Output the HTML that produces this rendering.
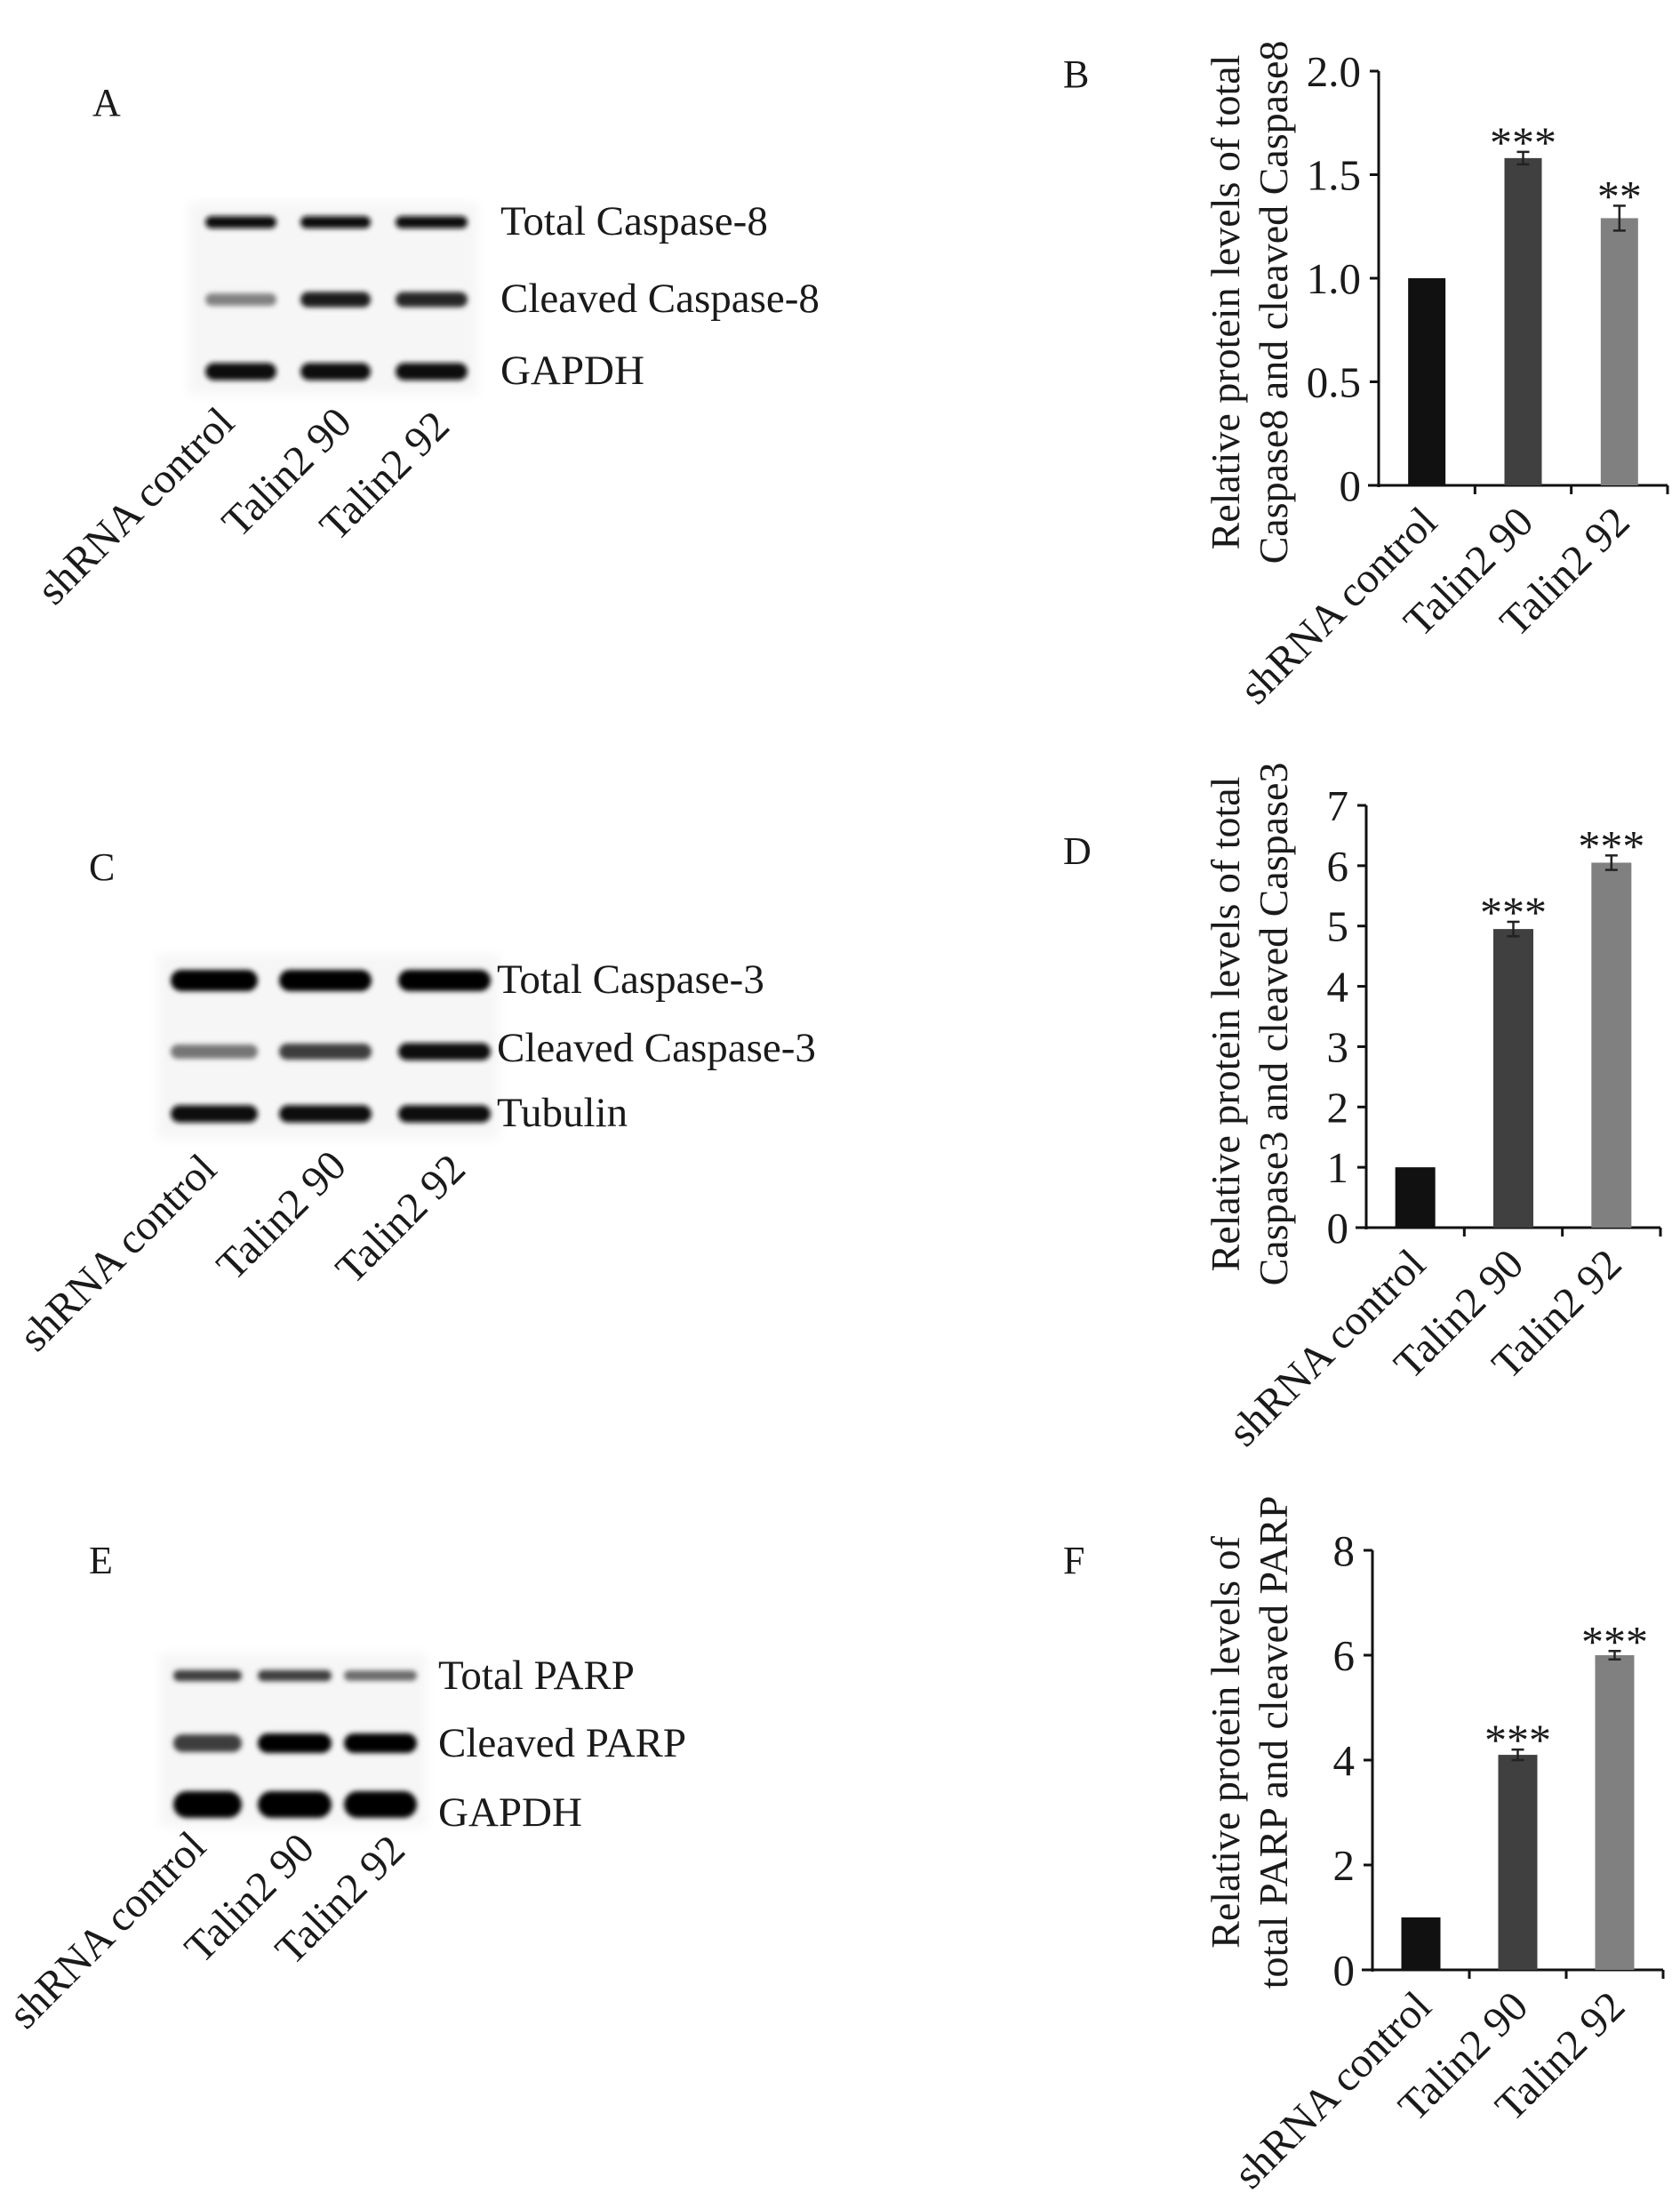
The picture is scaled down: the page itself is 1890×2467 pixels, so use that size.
<!DOCTYPE html>
<html><head><meta charset="utf-8"><style>
html,body{margin:0;padding:0;background:#fff}
svg{display:block}
text{font-family:"Liberation Serif",serif;fill:#1a1a1a}
</style></head><body>
<svg id="fig" width="1890" height="2467" viewBox="0 0 1890 2467" xmlns="http://www.w3.org/2000/svg">
<defs>
<filter id="blur" x="-20%" y="-100%" width="140%" height="300%"><feGaussianBlur stdDeviation="3"/></filter>
<filter id="blurbg" x="-10%" y="-10%" width="120%" height="120%"><feGaussianBlur stdDeviation="6"/></filter>
</defs>
<g id="layer"></g>
</svg>
<script>
// ---- chart data ----
const categories = ["shRNA control", "Talin2 90", "Talin2 92"];
const barColors = ["#111111", "#404040", "#808080"];
const bValues = [1.0, 1.58, 1.29];
const bErrors = [0, 0.03, 0.06];
const bStars = ["", "***", "**"];
const bTicks = ["0", "0.5", "1.0", "1.5", "2.0"];
const bTickValues = [0, 0.5, 1.0, 1.5, 2.0];
const dValues = [1.0, 4.95, 6.05];
const dErrors = [0, 0.12, 0.12];
const dStars = ["", "***", "***"];
const dTicks = ["0", "1", "2", "3", "4", "5", "6", "7"];
const dTickValues = [0, 1, 2, 3, 4, 5, 6, 7];
const fValues = [1.0, 4.1, 6.0];
const fErrors = [0, 0.1, 0.08];
const fStars = ["", "***", "***"];
const fTicks = ["0", "2", "4", "6", "8"];
const fTickValues = [0, 2, 4, 6, 8];
// ---- blot band intensities (0..1) per row per lane ----
const blotARows = ["Total Caspase-8", "Cleaved Caspase-8", "GAPDH"];
const blotAInt = [[0.95, 0.95, 0.95], [0.45, 0.9, 0.85], [0.95, 0.95, 0.95]];
const blotCRows = ["Total Caspase-3", "Cleaved Caspase-3", "Tubulin"];
const blotCInt = [[1, 1, 1], [0.5, 0.75, 0.95], [0.95, 0.95, 0.95]];
const blotERows = ["Total PARP", "Cleaved PARP", "GAPDH"];
const blotEInt = [[0.75, 0.75, 0.55], [0.75, 1, 1], [1, 1, 1]];

const NS = "http://www.w3.org/2000/svg";
const layer = document.getElementById("layer");
function mk(tag, attrs, parent) {
  const e = document.createElementNS(NS, tag);
  for (const k in attrs) e.setAttribute(k, attrs[k]);
  (parent || layer).appendChild(e);
  return e;
}
function txt(s, attrs, parent) { const t = mk("text", attrs, parent); t.textContent = s; return t; }

const letters = [["A",104,130],["B",1196,98],["C",100,990],["D",1196,972],["E",100,1770],["F",1196,1770]];
letters.forEach(l => {
  const t = txt(l[0], {x: l[1], y: l[2], "font-size": 44});
  
  
});

function drawChart(id, cfg, values, errors, stars, ticks, tickValues) {
  const g = mk("g", {});
  
  
  const yScale = v => cfg.y0 - (v / cfg.max) * (cfg.y0 - cfg.yTop);
  const xSlot = (cfg.xEnd - cfg.x0) / categories.length;
  const xCenter = i => cfg.x0 + xSlot * (i + 0.5);
  const ya = mk("line", {x1: cfg.x0, y1: cfg.yTop, x2: cfg.x0, y2: cfg.y0 + 2, stroke: "#111", "stroke-width": 3}, g);
  
  
  const xa = mk("line", {x1: cfg.x0 - 12, y1: cfg.y0, x2: cfg.xEnd, y2: cfg.y0, stroke: "#111", "stroke-width": 3}, g);
  
  
  tickValues.forEach((v, i) => {
    const y = yScale(v);
    mk("line", {x1: cfg.x0 - 10, y1: y, x2: cfg.x0, y2: y, stroke: "#111", "stroke-width": 3}, g);
    const t = txt(ticks[i], {x: cfg.x0 - 20, y: y + 17, "font-size": 49, "text-anchor": "end", fill: "#333"}, g);
    
    
  });
  for (let i = 1; i <= categories.length; i++) {
    const x = cfg.x0 + xSlot * i;
    mk("line", {x1: x, y1: cfg.y0, x2: x, y2: cfg.y0 + 10, stroke: "#111", "stroke-width": 3}, g);
  }
  values.forEach((v, i) => {
    const cx = xCenter(i);
    const r = mk("rect", {x: cx - cfg.bw / 2, y: yScale(v), width: cfg.bw, height: cfg.y0 - yScale(v), fill: barColors[i]}, g);
    
    
    let topY = yScale(v);
    if (errors[i] > 0) {
      const yt = yScale(v + errors[i]), yb = yScale(v - errors[i]);
      topY = yt;
      const eg = mk("g", {stroke: "#222", "stroke-width": 2.5}, g);
      
      
      mk("line", {x1: cx, y1: yt, x2: cx, y2: yb}, eg);
      mk("line", {x1: cx - 7, y1: yt, x2: cx + 7, y2: yt}, eg);
      mk("line", {x1: cx - 7, y1: yb, x2: cx + 7, y2: yb}, eg);
    }
    if (stars[i]) {
      const s = txt(stars[i], {x: cx, y: topY + 6, "font-size": 50, "text-anchor": "middle", fill: "#333"}, g);
      
      
    }
    const lx = cx + 14, ly = cfg.y0 + 44;
    const ct = txt(categories[i], {x: lx, y: ly, "font-size": 48, "text-anchor": "end", fill: "#333", transform: `rotate(-45 ${lx} ${ly})`}, g);
    
    
  });
  cfg.title.forEach((line, j) => {
    const x = cfg.titleX[j];
    const t = txt(line, {x: x, y: cfg.titleY, "font-size": 46, "text-anchor": "middle", transform: `rotate(-90 ${x} ${cfg.titleY})`}, g);
    
    
  });
}

drawChart("b", {x0: 1551, xEnd: 1876, y0: 546, yTop: 80, max: 2.0, bw: 42,
  title: ["Relative protein levels of total", "Caspase8 and cleaved Caspase8"], titleX: [1394, 1448], titleY: 340},
  bValues, bErrors, bStars, bTicks, bTickValues);
drawChart("d", {x0: 1537, xEnd: 1868, y0: 1381, yTop: 906, max: 7, bw: 45,
  title: ["Relative protein levels of total", "Caspase3 and cleaved Caspase3"], titleX: [1394, 1448], titleY: 1152},
  dValues, dErrors, dStars, dTicks, dTickValues);
drawChart("f", {x0: 1544, xEnd: 1871, y0: 2216, yTop: 1744, max: 8, bw: 44,
  title: ["Relative protein levels of", "total PARP and cleaved PARP"], titleX: [1394, 1448], titleY: 1960},
  fValues, fErrors, fStars, fTicks, fTickValues);

function drawBlot(id, b, rows, ints) {
  const g = mk("g", {});
  
  
  const bg = mk("rect", {x: b.bg[0], y: b.bg[1], width: b.bg[2], height: b.bg[3], fill: "#f6f6f6", filter: "url(#blurbg)"}, g);
  
  
  rows.forEach((name, r) => {
    b.lanes.forEach((ln, l) => {
      const a = ints[r][l];
      const h = b.bandH[r] * (0.6 + 0.4 * a);
      const shade = Math.round(230 - 225 * a);
      const band = mk("rect", {x: ln[0], y: b.rowY[r] - h / 2, width: ln[1] - ln[0], height: h, rx: h / 2,
        fill: `rgb(${shade},${shade},${shade})`, filter: "url(#blur)"}, g);
      
      
    });
    const t = txt(name, {x: b.labelX, y: b.labelY[r], "font-size": 47}, g);
    
    
  });
  categories.forEach((c, i) => {
    const p = b.laneLbl[i];
    const t = txt(c, {x: p[0], y: p[1], "font-size": 48, "text-anchor": "end", fill: "#333", transform: `rotate(-45 ${p[0]} ${p[1]})`}, g);
    
    
  });
}

drawBlot("a", {bg: [212, 228, 326, 216], lanes: [[231,311],[338,417],[445,526]], rowY: [250, 337, 418],
  bandH: [14, 18, 20], labelX: 563, labelY: [264, 351, 432], laneLbl: [[266,478],[398,478],[508,482]]},
  blotARows, blotAInt);
drawBlot("c", {bg: [177, 1073, 384, 208], lanes: [[192,290],[314,418],[448,552]], rowY: [1103, 1183, 1253],
  bandH: [24, 20, 20], labelX: 559, labelY: [1117, 1194, 1267], laneLbl: [[246,1318],[392,1314],[526,1318]]},
  blotCRows, blotCInt);
drawBlot("e", {bg: [180, 1860, 300, 195], lanes: [[195,272],[290,373],[387,469]], rowY: [1885, 1961, 2030],
  bandH: [14, 22, 30], labelX: 493, labelY: [1900, 1976, 2054], laneLbl: [[234,2080],[356,2082],[458,2084]]},
  blotERows, blotEInt);
</script>
</body></html>
